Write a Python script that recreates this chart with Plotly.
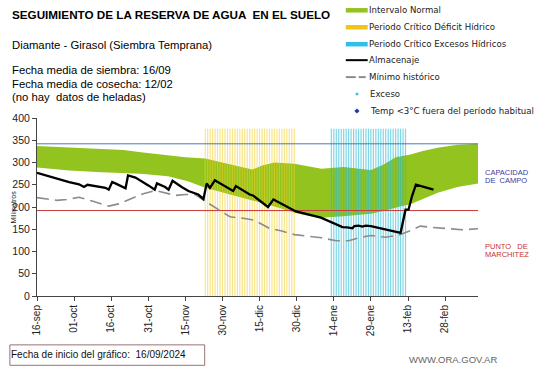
import pandas as pd
import plotly.graph_objects as go

START = "2024-09-16"
END_DAY = 178.3

# --- data (days since start date, millimetres) ---
band_upper_days = [0, 13, 26, 35, 42, 53, 60, 68, 78, 84, 87, 91, 96, 104, 110, 115, 124, 130, 135, 140, 145, 151, 156, 162, 170, 178.3]
band_upper_vals = [337, 334, 331, 328, 323, 316, 312, 309, 295, 287, 284, 293, 300, 297, 291, 286, 290, 287, 283, 295, 312, 318, 326, 333, 340, 342]
band_lower_days = [0, 13, 26, 42, 53, 61, 68, 74, 80, 87, 93, 99, 104, 110, 115, 124, 135, 141, 146, 151, 156, 162, 170, 178.3]
band_lower_vals = [289, 282, 278, 275, 269, 258, 243, 234, 226, 216, 206, 196, 187, 180, 176, 179, 185, 192, 200, 206, 218, 232, 245, 253]

minimo_days = [0, 8, 12, 17, 22, 29, 33, 38, 43, 48, 52, 56, 60, 64, 68, 73, 78, 84, 88, 94, 99, 104, 110, 115, 121, 126, 131, 135, 141, 147, 151, 155, 160, 165, 172, 178.3]
minimo_vals = [221, 215, 217, 222, 214, 202, 207, 218, 230, 237, 231, 226, 228, 228, 213, 195, 178, 174, 170, 152, 146, 138, 135, 131, 124, 124, 132, 136, 132, 138, 147, 157, 154, 152, 149, 151]

almac_days = [0, 6.3, 13, 17, 19, 20.4, 22.4, 25, 27.7, 29, 30.4, 31.7, 35.8, 36.8, 39.8, 45.2, 47.6, 48.5, 51.8, 53.2, 54.8, 58.5, 61.2, 65.2, 67.3, 68.6, 69.9, 71.9, 79.3, 80.4, 86, 87.3, 93.4, 95.6, 104.7, 114.8, 123.5, 125.5, 127.5, 128.3, 130, 131.5, 133, 135, 147, 149, 150.2, 151.6, 153.2, 160.3]
almac_vals = [277, 266, 256, 251, 245, 250, 248, 245, 243, 239, 256, 253, 242, 271, 266, 248, 239, 253, 245, 239, 259, 245, 236, 228, 218, 253, 243, 260, 236, 247, 228, 226, 200, 217, 190, 176, 155, 154, 152, 157, 158, 156, 158, 157, 142, 194, 194, 224, 250, 239]

deficit_days = list(range(68, 105))
exceso_period_days = list(range(119, 150))
stripe_top = 376

capacidad_campo = 342
punto_marchitez = 192

tick_days = [0, 15, 30, 45, 60, 75, 90, 105, 120, 135, 150, 165]
tick_labels = ["16-sep", "01-oct", "16-oct", "31-oct", "15-nov", "30-nov", "15-dic", "30-dic", "14-ene", "29-ene", "13-feb", "28-feb"]
y_ticks = [0, 50, 100, 150, 200, 250, 300, 350, 400]

start = pd.Timestamp(START)
def to_dates(days):
    return [start + pd.to_timedelta(d, unit="D") for d in days]

FONT = "Liberation Sans, Arial, sans-serif"
LEGFONT = "DejaVu Sans, Verdana, sans-serif"
fig = go.Figure()

# green band
fig.add_trace(go.Scatter(x=to_dates(band_lower_days), y=band_lower_vals, mode="lines",
                         line=dict(width=0, color="#92c31e"), showlegend=False, hoverinfo="skip"))
fig.add_trace(go.Scatter(x=to_dates(band_upper_days), y=band_upper_vals, mode="lines",
                         line=dict(width=0, color="#92c31e"), fill="tonexty", fillcolor="#92c31e",
                         showlegend=False, hoverinfo="skip"))

def stripes(days, color):
    xs, ys = [], []
    for d in to_dates(days):
        xs += [d, d, None]
        ys += [0, stripe_top, None]
    return go.Scatter(x=xs, y=ys, mode="lines", line=dict(width=1.2, color=color),
                      showlegend=False, hoverinfo="skip", connectgaps=False)

fig.add_trace(stripes(deficit_days, "rgba(240,208,40,0.55)"))
fig.add_trace(stripes(exceso_period_days, "rgba(40,188,214,0.6)"))

edge = to_dates([0, END_DAY])
fig.add_trace(go.Scatter(x=edge, y=[capacidad_campo] * 2, mode="lines",
                         line=dict(width=1, color="#4a78b8"), showlegend=False))
fig.add_trace(go.Scatter(x=edge, y=[punto_marchitez] * 2, mode="lines",
                         line=dict(width=1, color="#c83a3a"), showlegend=False))

fig.add_trace(go.Scatter(x=to_dates(minimo_days), y=minimo_vals, mode="lines",
                         line=dict(width=1.6, color="#8c8c8c", dash="12px,6px"), showlegend=False))
fig.add_trace(go.Scatter(x=to_dates(almac_days), y=almac_vals, mode="lines",
                         line=dict(width=2.3, color="#000000"), showlegend=False))

# geometry helpers (pixel -> paper)
L, R, T, B = 34.3, 478.0, 118.0, 296.5
def xp(px):
    return (px - L) / (R - L)
def yp(py):
    return (B - py) / (B - T)

ann = []
def text(px, py, s, size=11, color="#000", bold=False, anchor="left", angle=0, family=FONT):
    ann.append(dict(x=xp(px), y=yp(py), xref="paper", yref="paper", text=f"<b>{s}</b>" if bold else s,
                    showarrow=False, xanchor=anchor, yanchor="middle", textangle=angle,
                    font=dict(size=size, color=color, family=family)))

text(7, 14, "SEGUIMIENTO DE LA RESERVA DE AGUA  EN EL SUELO", size=11.7, bold=True)
text(7, 45, "Diamante - Girasol (Siembra Temprana)", size=11.3)
text(7, 70, "Fecha media de siembra: 16/09", size=11.3)
text(7, 83.5, "Fecha media de cosecha: 12/02", size=11.3)
text(7, 97, "(no hay  datos de heladas)", size=11.3)

legend_rows = [
    ("Intervalo Normal", 10), ("Periodo Crítico Déficit Hídrico", 27), ("Periodo Crítico Excesos Hídricos", 44),
    ("Almacenaje", 60), ("Mínimo histórico", 77), ("Exceso", 94), ("Temp <3°C fuera del período habitual", 111),
]
for i, (s, py) in enumerate(legend_rows):
    text(366 if i < 5 else 367, py, s, size=8.6, color="#222", family=LEGFONT)

text(483, 172.5, "CAPACIDAD", size=7.5, color="#3a3aa8")
text(483, 180.5, "DE  CAMPO", size=7.5, color="#3a3aa8")
text(483, 246.5, "PUNTO   DE", size=7.5, color="#c83030")
text(483, 255, "MARCHITEZ", size=7.5, color="#c83030")
text(11, 207, "Milímetros", size=7, color="#222", anchor="center", angle=-90)
text(6, 355, "Fecha de inicio del gráfico:  16/09/2024", size=10, color="#111")
text(499, 360, "WWW.ORA.GOV.AR", size=9.5, color="#666", anchor="right")

shapes = []
def pline(x0, y0, x1, y1, color, width, dash=None):
    shapes.append(dict(type="line", xref="paper", yref="paper", x0=xp(x0), y0=yp(y0), x1=xp(x1), y1=yp(y1),
                       line=dict(color=color, width=width, dash=dash)))

pline(345, 10, 367, 10, "#92c31e", 4.5)
pline(345, 27, 367, 27, "#f2c318", 4.5)
pline(345, 44, 367, 44, "#2ec0e6", 4.5)
pline(345, 60, 367, 60, "#000000", 2)
pline(345, 77, 355, 77, "#8c8c8c", 2)
pline(358, 77, 365, 77, "#8c8c8c", 2)
shapes.append(dict(type="rect", xref="paper", yref="paper", x0=xp(7), x1=xp(203), y0=yp(345.5), y1=yp(366),
                   line=dict(color="#9a7272", width=1)))
# legend markers: small cyan square and blue diamond
shapes.append(dict(type="rect", xref="paper", yref="paper", x0=xp(355), x1=xp(357.5), y0=yp(95.2), y1=yp(92.7),
                   line=dict(width=0), fillcolor="#2ec0e6"))
dx, dy = 2.6, 2.6
path = "M {} {} L {} {} L {} {} L {} {} Z".format(
    xp(356.2), yp(111 - dy), xp(356.2 + dx), yp(111), xp(356.2), yp(111 + dy), xp(356.2 - dx), yp(111))
shapes.append(dict(type="path", xref="paper", yref="paper", path=path, line=dict(width=0), fillcolor="#1a3ab0"))

fig.update_layout(
    width=541, height=368,
    margin=dict(l=L, r=541 - R, t=T, b=368 - B, pad=0),
    paper_bgcolor="white", plot_bgcolor="white",
    showlegend=False,
    annotations=ann, shapes=shapes,
    font=dict(family=FONT, size=10, color="#222"),
    xaxis=dict(type="date", range=to_dates([0, END_DAY]), tickvals=to_dates(tick_days), ticktext=tick_labels,
               tickangle=-90, ticks="outside", ticklen=4, tickcolor="#444", showgrid=False, zeroline=False,
               showline=True, linecolor="#444", linewidth=1, tickfont=dict(size=10, color="#222")),
    yaxis=dict(range=[0, 400], tickvals=y_ticks, ticks="outside", ticklen=4, tickcolor="#444", showgrid=False,
               zeroline=False, showline=True, linecolor="#444", linewidth=1, tickfont=dict(size=10.5, color="#222")),
)

fig.write_html("out.html", config={"displayModeBar": False},
               post_script="document.body.style.margin='0';document.body.style.overflow='hidden';")
